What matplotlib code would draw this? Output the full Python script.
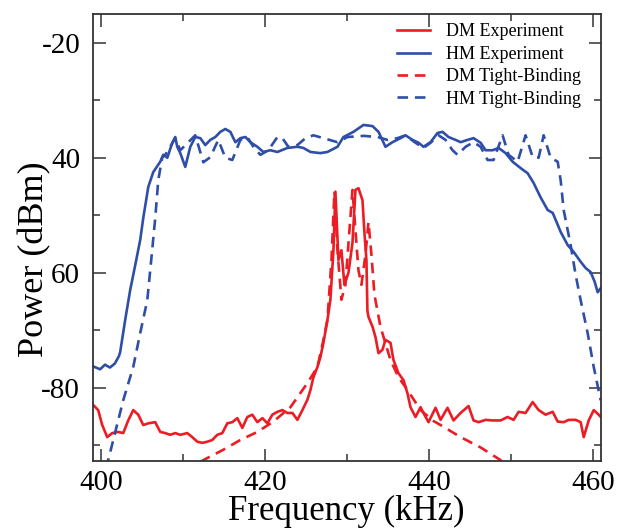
"""
DM / HM transmission spectra: experiment vs tight-binding
"""

import matplotlib
matplotlib.use('Agg')
import matplotlib.pyplot as plt
from matplotlib.ticker import MultipleLocator

# HM experiment (solid blue)
hm_exp_f = [399.06, 399.9, 400.5, 401.1, 401.7, 402.2, 402.35, 402.96, 403.57, 404.18,
            404.79, 405.16, 405.77, 406.38, 407.23, 407.6, 408.09, 408.7, 409.06, 409.3,
            409.67, 410.28, 410.89, 411.5, 412.11, 412.72, 413.33, 413.94, 414.55, 415.16,
            415.77, 416.38, 416.99, 417.6, 418.21, 419.06, 419.79, 420.65, 421.5, 422.72,
            423.94, 424.67, 425.53, 426.74, 427.6, 428.82, 429.55, 430.77, 431.99, 433.09,
            433.82, 434.67, 435.52, 436.5, 437.11, 437.96, 438.7, 439.3, 440.16, 441.01,
            441.62, 442.35, 443.21, 443.82, 444.67, 445.4, 446.26, 446.87, 447.72, 448.45,
            449.3, 450.16, 451.13, 451.99, 452.72, 453.57, 454.43, 455.04, 455.4, 456.01,
            456.87, 457.6, 458.45, 459.06, 459.67, 460.16, 460.52, 460.89]
hm_exp_p = [-76.3, -76.8, -76.0, -76.5, -75.8, -74.5, -73.8, -68.2, -63.0, -58.7,
            -54.3, -50.5, -45.1, -42.5, -40.7, -39.5, -40.0, -37.4, -36.4, -38.1,
            -39.2, -41.6, -38.1, -36.4, -36.6, -37.8, -36.9, -36.4, -35.5, -35.0,
            -35.5, -37.3, -36.6, -36.4, -37.3, -38.1, -39.0, -38.7, -39.0, -38.3,
            -38.1, -38.3, -39.0, -39.2, -39.0, -38.1, -36.4, -35.5, -34.3, -34.5,
            -35.5, -38.1, -37.3, -36.6, -36.1, -36.9, -37.4, -38.1, -37.3, -35.7,
            -35.5, -36.4, -36.9, -37.3, -36.9, -36.6, -37.4, -38.7, -38.7, -38.3,
            -39.2, -40.7, -41.8, -42.7, -44.4, -46.9, -49.1, -49.6, -50.8, -52.9,
            -55.2, -56.4, -58.1, -59.2, -59.9, -61.6, -63.4, -62.7]

# HM tight-binding (dashed blue)
hm_tb_f = [400.5, 400.89, 402.72, 403.94, 404.79, 405.65, 406.13, 406.62, 406.99, 407.48,
           407.84, 408.45, 409.06, 409.67, 411.5, 412.48, 413.33, 414.3, 415.16, 416.01,
           416.99, 417.84, 418.57, 419.43, 420.4, 421.5, 422.11, 422.84, 423.94, 424.92,
           425.89, 427.11, 428.82, 430.04, 431.99, 433.7, 434.91, 436.13, 437.11, 438.33,
           439.3, 440.16, 441.13, 441.99, 442.84, 443.45, 444.43, 445.4, 446.26, 447.11,
           447.84, 448.94, 449.67, 450.77, 451.74, 452.6, 453.33, 453.94, 454.79, 455.65,
           456.01, 456.38, 457.23, 457.84, 458.45, 459.3, 460.04, 460.89]
hm_tb_p = [-94.0, -92.6, -82.2, -76.4, -70.5, -64.8, -57.8, -50.5, -43.9, -39.9,
           -39.5, -38.1, -36.6, -38.7, -36.1, -40.8, -39.9, -36.9, -40.0, -40.4,
           -36.9, -36.4, -38.1, -39.5, -38.7, -36.4, -36.6, -38.1, -37.8, -36.6,
           -36.1, -36.6, -37.3, -36.4, -36.2, -36.4, -36.9, -36.6, -36.1, -37.4,
           -38.3, -37.4, -36.1, -36.9, -38.7, -39.5, -38.1, -37.3, -38.1, -40.4,
           -40.4, -36.1, -39.5, -40.7, -36.1, -39.9, -40.0, -36.1, -40.0, -40.7,
           -43.9, -49.1, -55.2, -60.4, -64.8, -70.5, -76.4, -82.2]

# DM experiment (solid red)
dm_exp_f = [399.06, 399.67, 400.16, 400.77, 401.38, 402.11, 402.72, 403.33, 403.94, 404.55,
            405.16, 405.77, 406.62, 407.23, 407.84, 408.45, 409.06, 409.67, 410.52, 411.13,
            411.74, 412.35, 412.96, 413.57, 414.18, 414.79, 415.4, 416.01, 416.62, 417.23,
            417.84, 418.45, 419.06, 419.67, 420.28, 420.89, 421.5, 422.11, 422.72, 423.33,
            423.94, 424.55, 425.16, 425.53, 425.89, 426.38, 426.74, 427.11, 427.6, 427.96,
            428.33, 428.57, 428.94, 429.3, 429.67, 430.16, 430.65, 431.01, 431.38, 431.87,
            432.11, 432.35, 432.47, 432.6, 433.09, 433.45, 433.82, 434.3, 434.67, 435.28,
            435.65, 436.26, 436.87, 437.35, 437.72, 438.33, 438.94, 439.3, 439.91, 440.77,
            441.38, 442.23, 442.96, 443.82, 444.79, 445.4, 446.01, 446.87, 447.72, 448.69,
            449.55, 450.28, 450.89, 451.74, 452.6, 453.33, 454.18, 455.04, 455.65, 456.38,
            456.99, 457.84, 458.45, 458.82, 459.43, 460.04, 460.65, 461.02]
dm_exp_p = [-83.0, -83.9, -86.5, -88.6, -87.9, -87.7, -87.9, -85.7, -83.9, -84.7,
            -86.5, -86.2, -86.0, -87.7, -87.9, -88.2, -87.9, -88.2, -87.9, -88.6,
            -89.4, -89.6, -89.4, -89.1, -88.2, -87.9, -86.2, -86.0, -85.3, -87.0,
            -85.1, -84.7, -86.0, -85.3, -86.2, -84.7, -84.2, -83.9, -84.4, -84.4,
            -85.6, -83.9, -82.1, -80.4, -78.2, -76.4, -74.7, -72.2, -68.2, -64.7,
            -56.1, -45.9, -57.8, -56.1, -62.1, -60.0, -54.8, -45.6, -45.3, -47.4,
            -53.1, -57.8, -66.6, -67.7, -69.4, -71.2, -74.0, -73.4, -71.7, -72.2,
            -75.2, -77.5, -78.7, -81.0, -83.4, -85.1, -83.4, -84.4, -86.0, -83.5,
            -85.6, -83.5, -85.7, -84.4, -83.2, -85.7, -86.0, -85.6, -85.7, -85.7,
            -85.1, -85.6, -84.2, -84.4, -82.5, -83.9, -84.7, -84.2, -85.9, -86.0,
            -85.6, -85.6, -86.0, -88.6, -85.7, -83.9, -84.7, -85.3]

# DM tight-binding (dashed red)
dm_tb_f = [412.13, 412.48, 414.91, 416.99, 419.06, 421.01, 423.09, 425.16, 426.38, 427.11,
           427.6, 428.09, 428.45, 428.82, 429.3, 429.79, 430.28, 430.65, 431.01, 431.38,
           431.74, 432.23, 432.6, 432.96, 433.33, 434.06, 435.28, 436.26, 437.35, 438.94,
           440.52, 441.38, 443.82, 446.26, 448.69, 449.5]
dm_tb_p = [-92.9, -92.6, -90.8, -89.1, -87.7, -85.9, -83.4, -79.2, -76.4, -71.7,
           -68.2, -57.8, -45.9, -56.1, -64.7, -62.1, -52.6, -45.6, -52.6, -59.6,
           -62.1, -56.9, -51.2, -56.9, -63.9, -69.4, -75.2, -78.2, -80.4, -83.9,
           -85.8, -86.5, -88.6, -90.4, -92.6, -93.8]

y_ticks = [-20, -40, -60, -80]
y_tick_labels = ['-20', '40', '60', '-80']
x_ticks = [400, 420, 440, 460]

RED = '#ec1c24'
BLUE = '#2f4ea8'

plt.rcParams['font.family'] = ['Liberation Serif', 'DejaVu Serif']

fig = plt.figure(figsize=(6.2, 5.28), dpi=100)
ax = fig.add_axes([0.1495, 0.1275, 0.8195, 0.846])

ax.plot(dm_exp_f, dm_exp_p, color=RED, lw=1.9, label='DM Experiment')
ax.plot(hm_exp_f, hm_exp_p, color=BLUE, lw=1.9, label='HM Experiment')
ax.plot(dm_tb_f, dm_tb_p, color=RED, lw=1.9, ls=(0, (4, 2.6)), label='DM Tight-Binding')
ax.plot(hm_tb_f, hm_tb_p, color=BLUE, lw=1.9, ls=(0, (4, 2.6)), label='HM Tight-Binding')

ax.set_xlim(399.0, 460.9)
ax.set_ylim(-92.7, -15.0)
ax.set_xticks(x_ticks)
ax.set_yticks(y_ticks)
ax.set_yticklabels(y_tick_labels)
ax.xaxis.set_minor_locator(MultipleLocator(10))
ax.yaxis.set_minor_locator(MultipleLocator(10))
ax.tick_params(which='both', direction='in', top=True, right=True,
               color='#333333', width=1.1)
ax.tick_params(which='major', length=9, labelsize=21)
ax.tick_params(axis='x', which='major', pad=7)
ax.tick_params(axis='y', which='major', pad=9)
ax.tick_params(which='minor', length=5)
for spine in ax.spines.values():
    spine.set_color('#333333')
    spine.set_linewidth(1.3)

ax.set_xlabel('Frequency (kHz)', fontsize=25)
ax.set_ylabel('Power (dBm)', fontsize=26)
ax.xaxis.set_label_coords(0.5, -0.076)
ax.yaxis.set_label_coords(-0.082, 0.45)

ax.legend(loc='upper right', bbox_to_anchor=(0.975, 0.995), frameon=False,
          fontsize=13, handlelength=1.8, handletextpad=0.9, labelspacing=0.3,
          borderaxespad=0)

fig.savefig('out.png', dpi=100)
